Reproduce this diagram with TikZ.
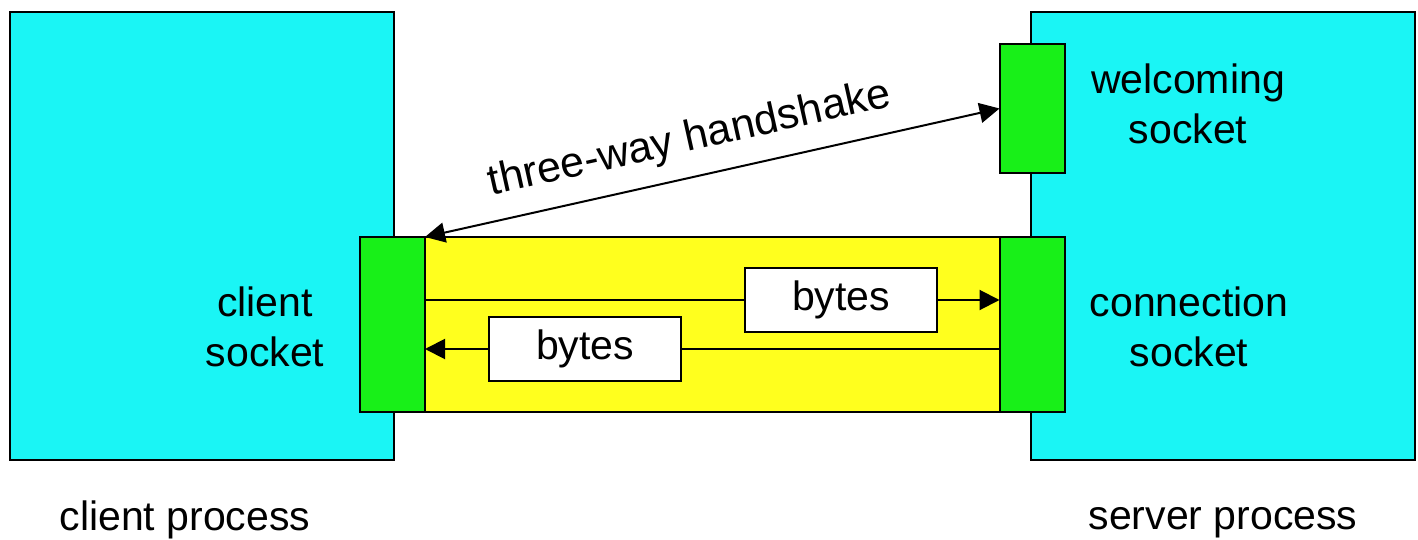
\documentclass[tikz,border=0pt]{standalone}
\usepackage{fontspec}
\setmainfont{Liberation Sans}
\usetikzlibrary{arrows.meta}
\definecolor{proc}{RGB}{26,245,245}
\definecolor{sock}{RGB}{24,240,24}
\definecolor{pipe}{RGB}{255,255,30}
\begin{document}
\begin{tikzpicture}[x=0.5pt,y=-0.5pt,
  box/.style={draw=black, line width=1pt, inner sep=0pt, outer sep=0pt},
  procbox/.style={box, fill=proc, minimum width=192pt, minimum height=224pt},
  sockbox/.style={box, fill=sock, minimum width=32.5pt},
  pipebox/.style={box, fill=pipe},
  bytebox/.style={box, fill=white, minimum width=96pt, minimum height=32pt, font=\fontsize{20.5}{25}\selectfont},
  lbl/.style={font=\fontsize{20.5}{25}\selectfont, align=center, inner sep=0pt},
  conn/.style={line width=1pt},
  tip/.style={-{Triangle[length=10pt,width=10pt]}},
  dtip/.style={{Triangle[length=10pt,width=10pt]}-{Triangle[length=10pt,width=10pt]}}]
\useasboundingbox (0,0) rectangle (1418,540);
% process boxes
\node[procbox] (client) at (202,236) {};
\node[procbox] (server) at (1223,236) {};
% pipe
\node[pipebox, minimum width=287.5pt, minimum height=87.5pt] (pipe) at (712.5,324.5) {};
% sockets
\node[sockbox, minimum height=87.5pt] (csock) at (392.5,324.5) {};
\node[sockbox, minimum height=87.5pt] (connsock) at (1032,324.5) {};
\node[sockbox, minimum height=64.5pt] (wsock) at (1032,108.5) {};
% bytes boxes
\node[bytebox] (b1) at (841,300) {bytes};
\node[bytebox] (b2) at (585,349) {bytes};
% byte streams
\draw[conn] (csock.east |- b1.west) -- (b1.west);
\draw[conn, tip] (b1.east) -- (connsock.west |- b1.east);
\draw[conn] (connsock.west |- b2.east) -- (b2.east);
\draw[conn, tip] (b2.west) -- (csock.east |- b2.west);
% handshake
\draw[conn, dtip] (csock.north east) -- node[lbl, font=\fontsize{21.5}{26}\selectfont, pos=0.475, sloped, above=8pt] (hs) {three-way handshake} (wsock.west);
% labels
\node[lbl] (lcs) at (265,327) {client\\socket};
\node[lbl] (lws) at (1188,104) {welcoming\\socket};
\node[lbl] (lcn) at (1189,327) {connection\\socket};
\node[lbl, anchor=base] (lcp) at (185,530) {client process};
\node[lbl, anchor=base] (lsp) at (1223,529) {server process};
\end{tikzpicture}
\end{document}
